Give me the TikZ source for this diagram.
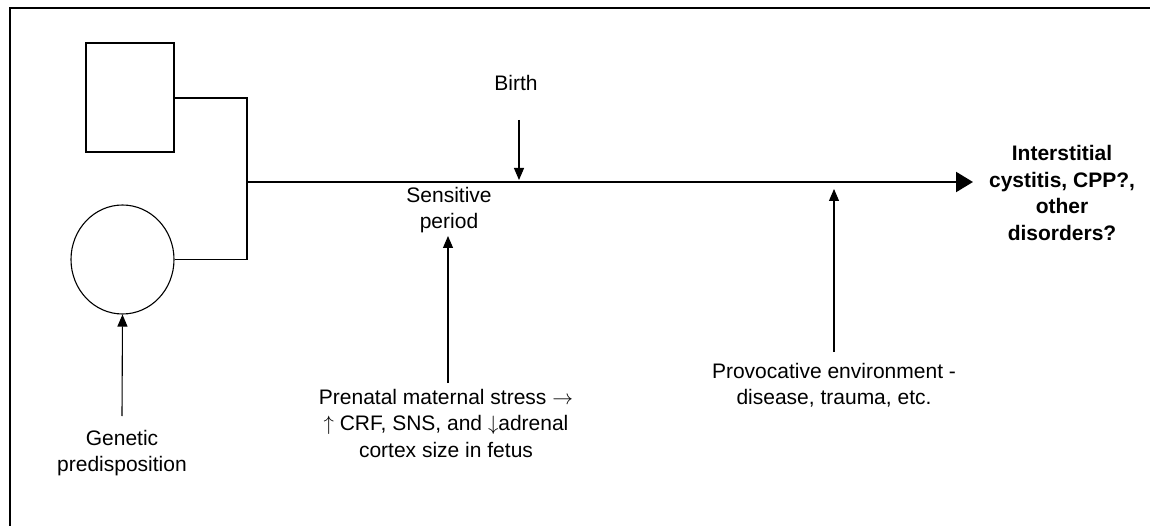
\documentclass[tikz,border=0pt]{standalone}
\usepackage{fontspec}
\setmainfont{Liberation Sans}
\usetikzlibrary{arrows.meta,shapes.geometric}
\begin{document}
\begin{tikzpicture}[x=1pt,y=-1pt,
  lbl/.style={align=center,inner sep=0pt,font=\fontsize{21}{26.5}\selectfont},
  outcome/.style={lbl,font=\fontsize{21}{26.5}\selectfont\bfseries},
  wire/.style={line width=1.1pt},
  feed/.style={line width=1.1pt,-{Triangle[length=12pt,width=10pt]}},
  timeline/.style={line width=2.2pt,-{Triangle[length=17pt,width=20pt]}}]
\useasboundingbox (0,0) rectangle (1150,526);
% frame
\draw[line width=1.2pt] (1150,8) -- (10,8) -- (10,526);
% parents
\node[draw,wire,minimum width=88pt,minimum height=109pt,inner sep=0pt] (father) at (130,97.5) {};
\node[draw,wire,ellipse,minimum width=103pt,minimum height=109pt,inner sep=0pt] (mother) at (122.5,259.5) {};
\coordinate (join) at (247,182);
\draw[wire] (father.east |- 0,98) -| (join);
\draw[wire] (mother.east) -| (join);
% outcome timeline
\node[outcome] (outcome) at (1062,193) {Interstitial\\cystitis, CPP?,\\other\\disorders?};
\coordinate (tip) at (973,182);
\draw[timeline] (join) -- (tip);
% labels and influences
\node[lbl] (birth) at (516,83) {Birth};
\coordinate (birthtop) at (519,120);
\coordinate (birthpt) at (519,180);
\draw[feed] (birthtop) -- (birthpt);
\node[lbl] (sens) at (449,210) {Sensitive\\period};
\node[lbl] (prenatal) at (446,423) {Prenatal maternal stress $\rightarrow$\\$\uparrow$ CRF, SNS, and $\downarrow$adrenal\\cortex size in fetus};
\coordinate (pbot) at (448,383);
\coordinate (ptip) at (448,236);
\draw[feed] (pbot) -- (ptip);
\node[lbl] (provoc) at (834,385) {Provocative environment -\\disease, trauma, etc.};
\coordinate (provbot) at (834,352);
\coordinate (provtip) at (834,189);
\draw[feed] (provbot) -- (provtip);
\node[lbl] (genetic) at (122,453) {Genetic\\predisposition};
\coordinate (genbot) at (122,416);
\draw[feed] (genbot) -- (mother.south);
\end{tikzpicture}
\end{document}
